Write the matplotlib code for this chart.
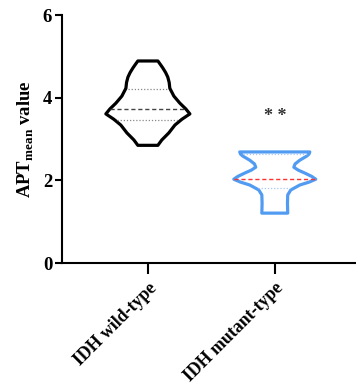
import numpy as np
import matplotlib
matplotlib.use("Agg")
import matplotlib.pyplot as plt

plt.rcParams['font.family'] = ['Liberation Serif', 'DejaVu Serif']
plt.rcParams['font.weight'] = 'bold'
plt.rcParams['mathtext.fontset'] = 'custom'
plt.rcParams['mathtext.rm'] = 'Liberation Serif:bold'
plt.rcParams['mathtext.bf'] = 'Liberation Serif:bold'

groups = ['IDH wild-type', 'IDH mutant-type']

# violin outlines: value levels and half widths (x units)
wt_levels = [4.89, 4.80, 4.72, 4.61, 4.50, 4.37, 4.23, 4.04, 3.87, 3.73, 3.61, 3.48, 3.34, 3.15, 2.98, 2.85]
wt_halfw = [0.079, 0.100, 0.118, 0.140, 0.157, 0.168, 0.173, 0.205, 0.252, 0.299, 0.331, 0.268, 0.213, 0.165, 0.110, 0.079]
mt_levels = [2.69, 2.64, 2.59, 2.49, 2.40, 2.32, 2.25, 2.18, 2.10, 2.03, 1.96, 1.89, 1.77, 1.65, 1.45, 1.21]
mt_halfw = [0.276, 0.270, 0.252, 0.197, 0.160, 0.150, 0.185, 0.236, 0.290, 0.323, 0.270, 0.197, 0.126, 0.102, 0.100, 0.102]

wt_median, wt_q = 3.72, [4.21, 3.46]
mt_median, mt_q = 2.03, [2.64, 1.81]

colors = ['black', '#519cf2']
med_colors = ['#444444', '#ff3030']
q_colors = ['#888888', '#a8c8f5']

fig = plt.figure(figsize=(3.56, 3.87), dpi=100)
ax = fig.add_axes([0.174, 0.320, 0.826, 0.641])

profiles = [(wt_levels, wt_halfw, wt_median, wt_q), (mt_levels, mt_halfw, mt_median, mt_q)]
for i, (lv, hw, med, qs) in enumerate(profiles):
    lv = np.array(lv)
    hw = np.array(hw)
    xs = np.concatenate([i - hw, (i + hw)[::-1]])
    ys = np.concatenate([lv, lv[::-1]])
    ax.fill(xs, ys, facecolor='white', edgecolor=colors[i], lw=2.3, joinstyle='round', zorder=3)
    w = np.interp(med, lv[::-1], hw[::-1])
    ax.plot([i - w, i + w], [med, med], ls=(0, (3, 2)), color=med_colors[i], lw=1.0, zorder=4)
    for q in qs:
        w = np.interp(q, lv[::-1], hw[::-1])
        ax.plot([i - w + 0.02, i + w - 0.02], [q, q], ls=(0, (1, 1.5)), color=q_colors[i], lw=0.9, zorder=4)

ax.text(1, 3.55, '* *', ha='center', va='center', fontsize=13, color='#333333')

ax.set_xlim(-0.677, 1.64)
ax.set_ylim(0, 6)
ax.set_yticks([0, 2, 4, 6])
ax.set_xticks([0, 1])
ax.set_xticklabels(groups, rotation=45, ha='right', rotation_mode='anchor', fontsize=12.8, fontweight='bold')
ax.tick_params(axis='y', length=5, width=1.5, labelsize=13.5, pad=2)
ax.tick_params(axis='x', length=8, width=1.5, pad=4)
for lab in ax.get_yticklabels():
    lab.set_fontweight('bold')
ax.spines['top'].set_visible(False)
ax.spines['right'].set_visible(False)
ax.spines['left'].set_linewidth(1.5)
ax.spines['bottom'].set_linewidth(1.5)
ax.set_ylabel(r'APT$_{\mathrm{mean}}$ value', fontsize=13.5, fontweight='bold', labelpad=5)

fig.savefig('out.png', dpi=100)
